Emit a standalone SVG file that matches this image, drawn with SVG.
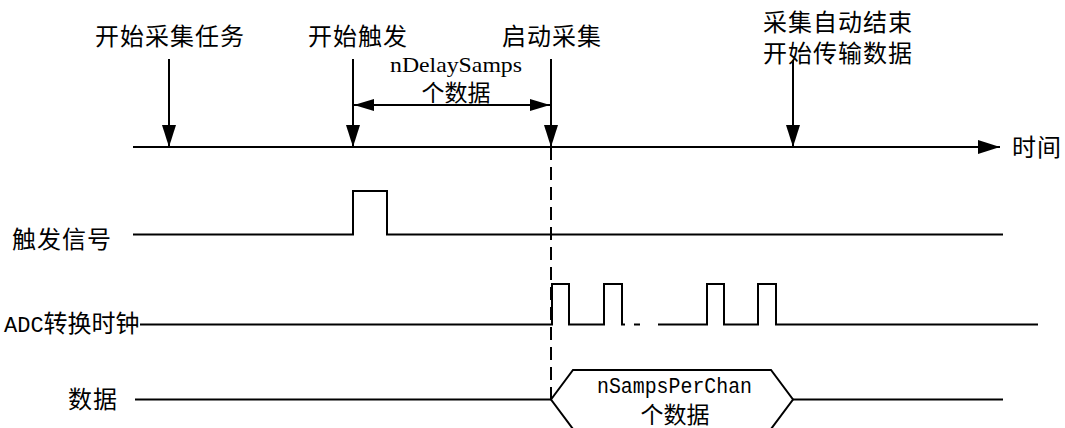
<svg xmlns="http://www.w3.org/2000/svg" width="1065" height="428" viewBox="0 0 1065 428">
<defs>
<style>
.t{font-family:"Liberation Serif","Noto Sans CJK SC",serif;font-size:24px;letter-spacing:1px;fill:#000}
.ser{font-family:"Liberation Serif",serif;font-size:22px;fill:#000}
.mono{font-family:"Liberation Mono",monospace;font-size:22px;fill:#000}
.ln{stroke:#000;stroke-width:2;fill:none}
.dash{stroke:#000;stroke-width:2;fill:none;stroke-dasharray:13 7}
</style>
<marker id="ah" viewBox="0 0 22 14" refX="22" refY="7" markerWidth="22" markerHeight="14" markerUnits="userSpaceOnUse" orient="auto-start-reverse">
<path d="M0,0 L22,7 L0,14 Z" fill="#000"/>
</marker>
<marker id="ah2" viewBox="0 0 20 12" refX="20" refY="6" markerWidth="20" markerHeight="12" markerUnits="userSpaceOnUse" orient="auto-start-reverse">
<path d="M0,0 L20,6 L0,12 Z" fill="#000"/>
</marker>
</defs>
<rect width="1065" height="428" fill="#fff"/>

<g id="labels-top">
<g id="start-task"><text class="t" x="95" y="45">开始采集任务</text></g>
<g id="start-trigger"><text class="t" x="308" y="45">开始触发</text></g>
<g id="start-acq"><text class="t" x="502" y="45">启动采集</text></g>
<g id="end-acq"><text class="t" x="763" y="31">采集自动结束</text><text class="t" x="763" y="62">开始传输数据</text></g>
<g id="time-label"><text class="t" x="1012" y="156">时间</text></g>
<g id="delay-label"><text class="ser" x="390" y="72" textLength="132" lengthAdjust="spacingAndGlyphs">nDelaySamps</text><text class="t" x="456" y="101" text-anchor="middle" style="letter-spacing:0;font-size:23px">个数据</text></g>
</g>

<g id="signal-labels">
<g id="trigger-label"><text class="t" x="12" y="248">触发信号</text></g>
<g id="clock-label"><text class="t" x="4" y="332" style="letter-spacing:0"><tspan style="font-family:'Liberation Mono',monospace;font-size:22px">ADC</tspan>转换时钟</text></g>
<g id="data-label"><text class="t" x="68" y="408">数据</text></g>
</g>

<g id="connectors">
<line class="ln" x1="133" y1="147" x2="1000" y2="147" marker-end="url(#ah)"/>
<line class="ln" x1="169" y1="59" x2="169" y2="147" marker-end="url(#ah)"/>
<line class="ln" x1="353" y1="59" x2="353" y2="147" marker-end="url(#ah)"/>
<line class="ln" x1="551" y1="59" x2="551" y2="147" marker-end="url(#ah)"/>
<line class="ln" x1="793" y1="60" x2="793" y2="147" marker-end="url(#ah)"/>
<line class="ln" x1="354" y1="105" x2="550" y2="105" marker-start="url(#ah2)" marker-end="url(#ah2)"/>
<line class="dash" x1="551" y1="147" x2="551" y2="399"/>
</g>

<g id="trigger-signal">
<polyline class="ln" points="133,234.5 353,234.5 353,191 387,191 387,234.5 1003,234.5"/>
</g>

<g id="clock-signal">
<polyline class="ln" points="140,324.5 552,324.5 552,284 569,284 569,324.5 604,324.5 604,284 622,284 622,324.5 625,324.5"/>
<line class="ln" x1="634" y1="324.5" x2="640" y2="324.5"/>
<polyline class="ln" points="658,324.5 707,324.5 707,284 724,284 724,324.5 758,324.5 758,284 776,284 776,324.5 1038,324.5"/>
</g>

<g id="data-signal">
<line class="ln" x1="135" y1="399.5" x2="551" y2="399.5"/>
<polygon class="ln" points="551,399.5 573,370 771,370 793,399.5 771,429 573,429"/>
<line class="ln" x1="793" y1="399.5" x2="1003" y2="399.5"/>
<text class="mono" x="597" y="393" textLength="155" lengthAdjust="spacingAndGlyphs">nSampsPerChan</text>
<text class="t" x="675" y="423" text-anchor="middle" style="letter-spacing:0;font-size:23px">个数据</text>
</g>
</svg>
